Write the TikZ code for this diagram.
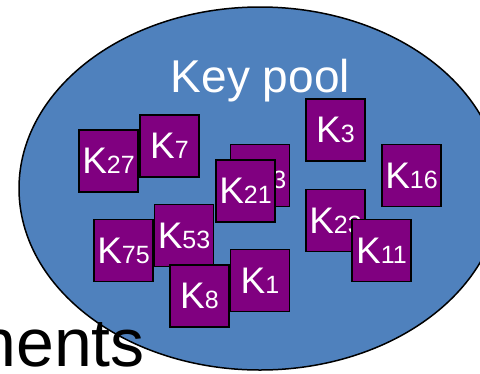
\documentclass[tikz,border=0pt]{standalone}
\usepackage{fontspec}
\setmainfont{Liberation Sans}
\definecolor{poolblue}{HTML}{4F81BD}
\definecolor{keypurple}{HTML}{800080}
\newcommand{\keylab}[1]{K{\fontsize{25}{25}\selectfont #1}}
\tikzset{
  pool/.style={fill=poolblue, draw=black, line width=1.5pt},
  keybox/.style={draw=black, fill=keypurple, line width=1.4pt, minimum width=59pt, minimum height=62pt, inner sep=0pt, text=white, font=\fontsize{37}{37}\selectfont},
  title/.style={text=white, font=\fontsize{46}{46}\selectfont, inner sep=0pt, anchor=base},
  bigtext/.style={text=black, font=\fontsize{68}{68}\selectfont, inner sep=0pt, anchor=base east}
}
\begin{document}
\begin{tikzpicture}[x=1pt,y=-1pt]
\clip (0,0) rectangle (480,373);
\fill[white] (0,0) rectangle (480,373);
\draw[pool] (260,188.5) ellipse [x radius=241, y radius=181.5];
\node[title] (title) at (260.5,92) {Key pool};
\node[keybox] (k27) at (108.5,161) {\keylab{27}};
\node[keybox] (k7) at (169.5,146) {\keylab{7}};
\node[keybox] (k13) at (260,175.5) {\keylab{13}};
\node[keybox] (k21) at (245.5,191) {\keylab{21}};
\node[keybox] (k3) at (335.5,130) {\keylab{3}};
\node[keybox] (k16) at (411.5,175.5) {\keylab{16}};
\node[keybox] (k23) at (335.5,220.5) {\keylab{23}};
\node[keybox] (k11) at (381.5,250.5) {\keylab{11}};
\node[keybox] (k75) at (123.5,250.5) {\keylab{75}};
\node[keybox] (k53) at (184,235.5) {\keylab{53}};
\node[keybox] (k1) at (260,280.5) {\keylab{1}};
\node[keybox] (k8) at (199.5,296) {\keylab{8}};
\node[bigtext] (nents) at (145,366) {nents};
\end{tikzpicture}
\end{document}
